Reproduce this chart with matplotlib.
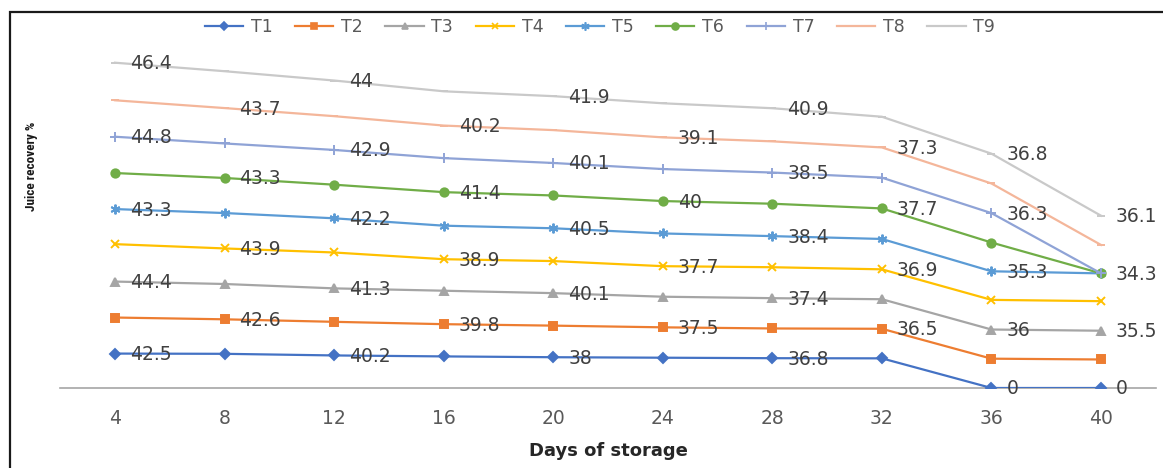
import numpy as np
import matplotlib
matplotlib.use("Agg")
import matplotlib.pyplot as plt
from matplotlib.patches import Rectangle
from matplotlib.lines import Line2D

# ---- data -------------------------------------------------------------
days = [4, 8, 12, 16, 20, 24, 28, 32, 36, 40]
treatments = ["T1", "T2", "T3", "T4", "T5", "T6", "T7", "T8", "T9"]

t1 = [42.5, 42.2, 40.2, 39.0, 38.0, 37.4, 36.8, 36.6, 0, 0]
t2 = [44.5, 42.6, 41.5, 39.8, 39.0, 37.5, 36.7, 36.5, 36.2, 35.2]
t3 = [44.4, 43.6, 41.3, 41.3, 40.1, 37.8, 37.4, 36.5, 36.0, 35.5]
t4 = [46.2, 43.9, 44.3, 38.9, 39.6, 37.7, 38.2, 36.9, 36.6, 36.5]
t5 = [43.3, 43.7, 42.2, 41.4, 40.5, 40.4, 38.4, 37.5, 35.3, 34.3]
t6 = [44.5, 43.3, 41.5, 41.4, 40.5, 40.0, 40.0, 37.7, 35.5, 0]
t7 = [44.8, 42.6, 42.9, 42.0, 40.1, 39.5, 38.5, 38.0, 36.3, 0]
t8 = [45.0, 43.7, 41.7, 40.2, 40.6, 39.1, 38.5, 37.3, 36.6, 35.1]
t9 = [46.4, 45.5, 44.0, 42.3, 41.9, 42.1, 40.9, 37.9, 36.8, 36.1]

series = [t1, t2, t3, t4, t5, t6, t7, t8, t9]

# which days carry a value label for each treatment
odd_days = [0, 2, 4, 6, 8, 9]
even_days = [1, 3, 5, 7]
label_idx = [odd_days, even_days, odd_days, even_days, odd_days,
             even_days, [0, 2, 4, 6, 8], even_days, odd_days]

# ---- style ------------------------------------------------------------
colors = ["#4472C4", "#ED7D31", "#A5A5A5", "#FFC000", "#5B9BD5",
          "#70AD47", "#8FA3D6", "#F4B69A", "#C9C9C9"]
markers = ["D", "s", "^", "x", (6, 2, 0), "o", "+", "_", "_"]
msizes = [5, 6, 6, 6, 7, 6, 7, 6, 6]

W, H = 1163, 468
fig = plt.figure(figsize=(W / 100, H / 100), dpi=100)

# axes geometry in pixels
left_px, right_px = 60.2, 1155.8
bottom_px = 388.0
ymax = 450.0
px_per_unit = 0.81
height_px = ymax * px_per_unit
ax = fig.add_axes([left_px / W, (H - bottom_px) / H,
                   (right_px - left_px) / W, height_px / H])

x = np.arange(len(days))
cum = np.cumsum(np.array(series, dtype=float), axis=0)

for k, name in enumerate(treatments):
    ax.plot(x, cum[k], color=colors[k], lw=1.6, marker=markers[k],
            ms=msizes[k], mew=1.4, label=name, zorder=3 + k * 0.01)
    for i in label_idx[k]:
        v = series[k][i]
        txt = f"{v:g}"
        ax.annotate(txt, (x[i], cum[k][i]), xytext=(15, -1),
                    textcoords="offset pixels", ha="left", va="center",
                    fontsize=13.5, color="#404040", family="DejaVu Sans",
                    annotation_clip=False, clip_on=False, zorder=10)

ax.set_xlim(-0.5, len(days) - 0.5)
ax.set_ylim(0, ymax)
ax.set_xticks(x)
ax.set_xticklabels([str(d) for d in days], fontsize=13.5,
                   color="#595959", family="DejaVu Sans")
ax.tick_params(axis="x", length=0, pad=15)
ax.set_yticks([])
for s in ["top", "right", "left"]:
    ax.spines[s].set_visible(False)
ax.spines["bottom"].set_color("#A6A6A6")
ax.spines["bottom"].set_linewidth(1.2)
ax.spines["bottom"].set_zorder(1)
ax.patch.set_alpha(0)

# axis titles
fig.text(0.5 * (left_px + right_px) / W, 1 - 451 / H, "Days of storage",
         ha="center", va="center", fontsize=13, fontweight="bold",
         color="#262626", family="DejaVu Sans")
fig.text(31 / W, 1 - 166 / H, "Juice recovery %", rotation=90,
         ha="center", va="center", fontsize=9.5, fontweight="bold",
         color="#1A1A1A",
         family=["Roboto Condensed", "Liberation Sans Narrow", "Roboto"])

# legend along the top
handles = [Line2D([], [], color=colors[k], lw=1.6, marker=markers[k],
                  ms=msizes[k] - 1, mew=1.2) for k in range(len(treatments))]
fig.legend(handles, treatments, loc="center", ncol=len(treatments),
           bbox_to_anchor=(600 / W, 1 - 27 / H), frameon=False,
           handlelength=2.2, handletextpad=0.45,
           columnspacing=1.3, labelcolor="#595959",
           prop={"family": "DejaVu Sans", "size": 12.5})

# outer chart frame (top and left edges fall inside the canvas)
fig.add_artist(Rectangle((9.5 / W, -0.05), 1.2, 1 - 11.7 / H + 0.05,
                         transform=fig.transFigure, fill=False,
                         edgecolor="#1A1A1A", lw=1.6, zorder=20))

fig.savefig("out.png", dpi=100)
